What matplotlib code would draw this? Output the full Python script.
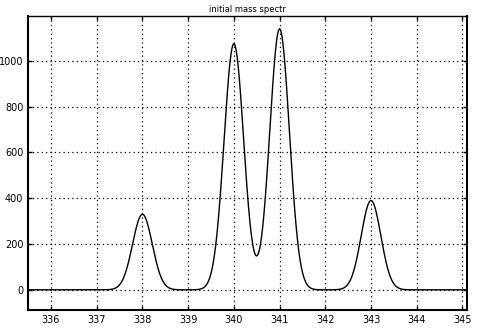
import numpy as np
import matplotlib.pyplot as plt

# peaks of the spectrum (mass, intensity) and their gaussian width
masses = [338, 340, 341, 343]
heights = [330, 1075, 1140, 390]
width = 0.215

x_ticks = [336, 337, 338, 339, 340, 341, 342, 343, 344, 345]
y_ticks = [0, 200, 400, 600, 800, 1000]

x = np.linspace(335.5, 345.1, 1200)
y = np.zeros_like(x)
for m, h in zip(masses, heights):
    y += h * np.exp(-(x - m) ** 2 / (2 * width ** 2))

fig = plt.figure(figsize=(4.85, 3.28), dpi=100)
ax = fig.add_axes([0.058, 0.055, 0.905, 0.896])
ax.plot(x, y, color='black', linewidth=1.0)

ax.set_xlim(335.5, 345.1)
ax.set_ylim(-88, 1196)
ax.set_xticks(x_ticks)
ax.set_yticks(y_ticks)
ax.tick_params(labelsize=7, length=3, direction='in', width=1,
               top=True, right=True)
ax.grid(True, color='black', linestyle=(0, (1, 2.5)), linewidth=0.9)
for name, s in ax.spines.items():
    s.set_linewidth(1.0 if name == 'top' else 1.5)

ax.set_title('initial mass spectr', fontsize=6, pad=3)

fig.savefig('out.png', dpi=100)
